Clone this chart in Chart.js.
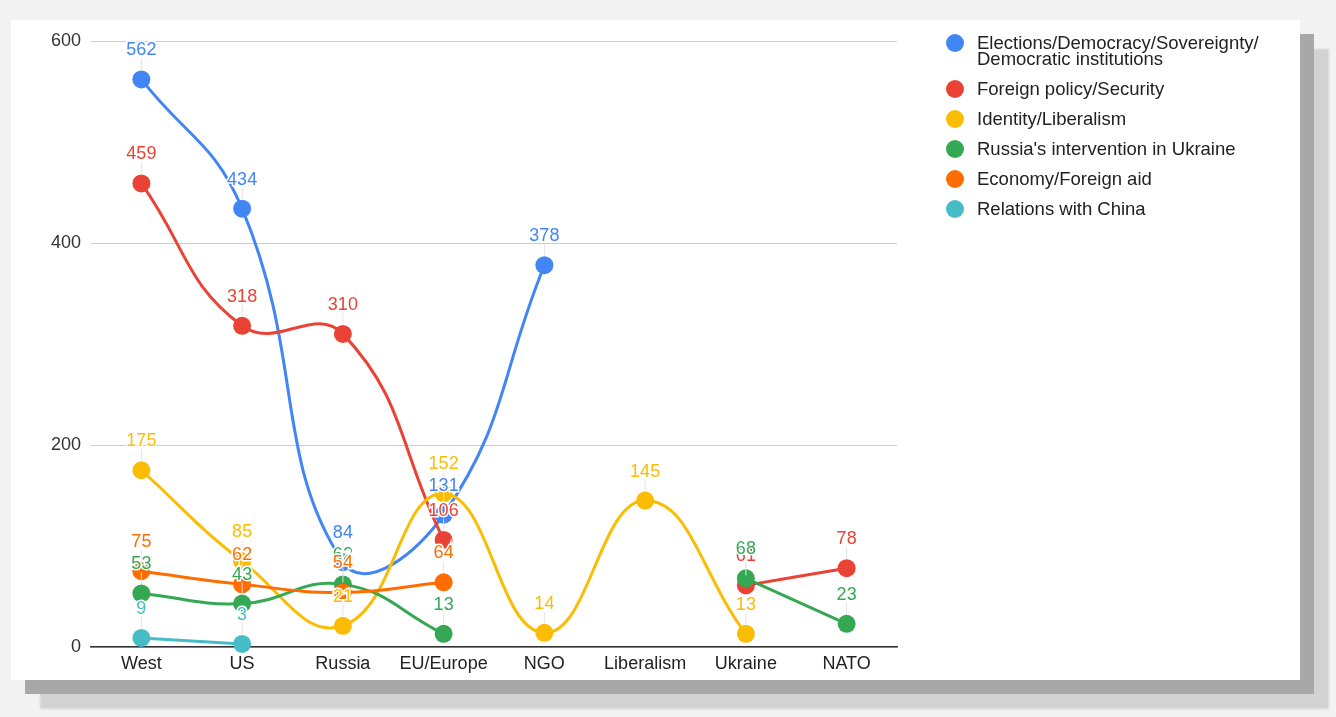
<!DOCTYPE html>
<html>
<head>
<meta charset="utf-8">
<script src="https://cdn.jsdelivr.net/npm/chart.js@4/dist/chart.umd.min.js"></script>
<style>
  html, body { margin: 0; padding: 0; }
  body { width: 1336px; height: 717px; background: #f3f3f3; position: relative; overflow: hidden; font-family: "Liberation Sans", Arial, sans-serif; }
  #card { position: absolute; left: 11px; top: 20px; width: 1289px; height: 660px; background: #fff;
          box-shadow: 14px 14px 0 0 #a8a8a8, 29px 29px 2px 0 #d2d2d2; }
  #wrap { position: absolute; left: 0; top: 0; width: 1336px; height: 717px; }
  #legend { position: absolute; left: 946px; top: 35px; list-style: none; margin: 0; padding: 0; }
  #legend li { position: relative; padding-left: 31px; font-size: 18.5px; line-height: 16px; color: #222; margin-bottom: 14px; }
  #legend li span.dot { position: absolute; left: 0; top: -1px; width: 18px; height: 18px; border-radius: 50%; }
</style>
</head>
<body>
<div id="card"></div>
<div id="wrap"><canvas id="chart"></canvas></div>
<ul id="legend"></ul>
<script>
document.addEventListener("DOMContentLoaded", () => {
    const categories = ["West", "US", "Russia", "EU/Europe", "NGO", "Liberalism", "Ukraine", "NATO"];

    const elections = [562, 434, 84, 131, 378, null, null, null];
    const foreignPolicy = [459, 318, 310, 106, null, null, 61, 78];
    const identity = [175, 85, 21, 152, 14, 145, 13, null];
    const ukraineIntervention = [53, 43, 62, 13, null, null, 68, 23];
    const economy = [75, 62, 54, 64, null, null, null, null];
    const china = [9, 3, null, null, null, null, null, null];

    const yTicks = [0, 200, 400, 600];

    const series = [
        { label: ["Elections/Democracy/Sovereignty/", "Democratic institutions"], data: elections, color: "#4285f4" },
        { label: ["Foreign policy/Security"], data: foreignPolicy, color: "#ea4335" },
        { label: ["Identity/Liberalism"], data: identity, color: "#fbbc04" },
        { label: ["Russia's intervention in Ukraine"], data: ukraineIntervention, color: "#34a853" },
        { label: ["Economy/Foreign aid"], data: economy, color: "#ff6d01" },
        { label: ["Relations with China"], data: china, color: "#46bdc6" }
    ];

    const font = "'Liberation Sans', Arial, sans-serif";

    // legend
    const legend = document.getElementById("legend");
    series.forEach(s => {
        const li = document.createElement("li");
        const dot = document.createElement("span");
        dot.className = "dot";
        dot.style.background = s.color;
        li.appendChild(dot);
        li.appendChild(document.createTextNode(s.label[0]));
        for (let i = 1; i < s.label.length; i++) {
            li.appendChild(document.createElement("br"));
            li.appendChild(document.createTextNode(s.label[i]));
        }
        legend.appendChild(li);
    });

    // value annotations with little stems
    const annotations = {
        id: "annotations",
        afterDatasetsDraw(chart) {
            const ctx = chart.ctx;
            ctx.save();
            ctx.font = "18px " + font;
            ctx.textAlign = "center";
            ctx.textBaseline = "middle";
            chart.data.datasets.forEach((ds, di) => {
                const meta = chart.getDatasetMeta(di);
                meta.data.forEach((pt, i) => {
                    if (ds.data[i] === null) return;
                    ctx.strokeStyle = "#e3e3e3";
                    ctx.lineWidth = 1;
                    ctx.beginPath();
                    ctx.moveTo(pt.x, pt.y - 21);
                    ctx.lineTo(pt.x, pt.y - 10);
                    ctx.stroke();
                });
            });
            chart.data.datasets.forEach((ds, di) => {
                const meta = chart.getDatasetMeta(di);
                meta.data.forEach((pt, i) => {
                    const v = ds.data[i];
                    if (v === null) return;
                    const y = pt.y - 29;
                    ctx.lineWidth = 3;
                    ctx.strokeStyle = "#fff";
                    ctx.strokeText(String(v), pt.x, y);
                    ctx.fillStyle = ds.borderColor;
                    ctx.fillText(String(v), pt.x, y);
                });
            });
            ctx.restore();
        }
    };

    const ctx = document.getElementById("chart").getContext("2d");
    new Chart(ctx, {
        type: "line",
        data: {
            labels: categories,
            datasets: series.map((s, i) => ({
                label: s.label.join(" "),
                data: s.data,
                borderColor: s.color,
                backgroundColor: s.color,
                pointBackgroundColor: s.color,
                pointBorderColor: s.color,
                pointRadius: 9,
                pointBorderWidth: 0,
                borderWidth: 3,
                tension: 0.45,
                spanGaps: false,
                fill: false,
                clip: false,
                order: series.length - i
            }))
        },
        options: {
            responsive: true,
            maintainAspectRatio: false,
            animation: false,
            layout: { padding: { top: 41, right: 439, bottom: 0, left: 0 } },
            plugins: { legend: { display: false }, tooltip: { enabled: false } },
            scales: {
                x: {
                    offset: true,
                    grid: { display: false, drawTicks: false },
                    border: { display: true, color: "#333", width: 1.5 },
                    ticks: { color: "#222", padding: 6, font: { size: 18, family: font }, maxRotation: 0, autoSkip: false },
                    afterFit(scale) { scale.height = 70; }
                },
                y: {
                    min: 0,
                    max: 600,
                    afterBuildTicks(scale) { scale.ticks = yTicks.map(v => ({ value: v })); },
                    grid: { color: "#cccccc", drawTicks: false },
                    border: { display: false },
                    ticks: { color: "#333", padding: 10, font: { size: 18, family: font } },
                    afterFit(scale) { scale.width = 91; }
                }
            }
        },
        plugins: [annotations]
    });
});
</script>
</body>
</html>
